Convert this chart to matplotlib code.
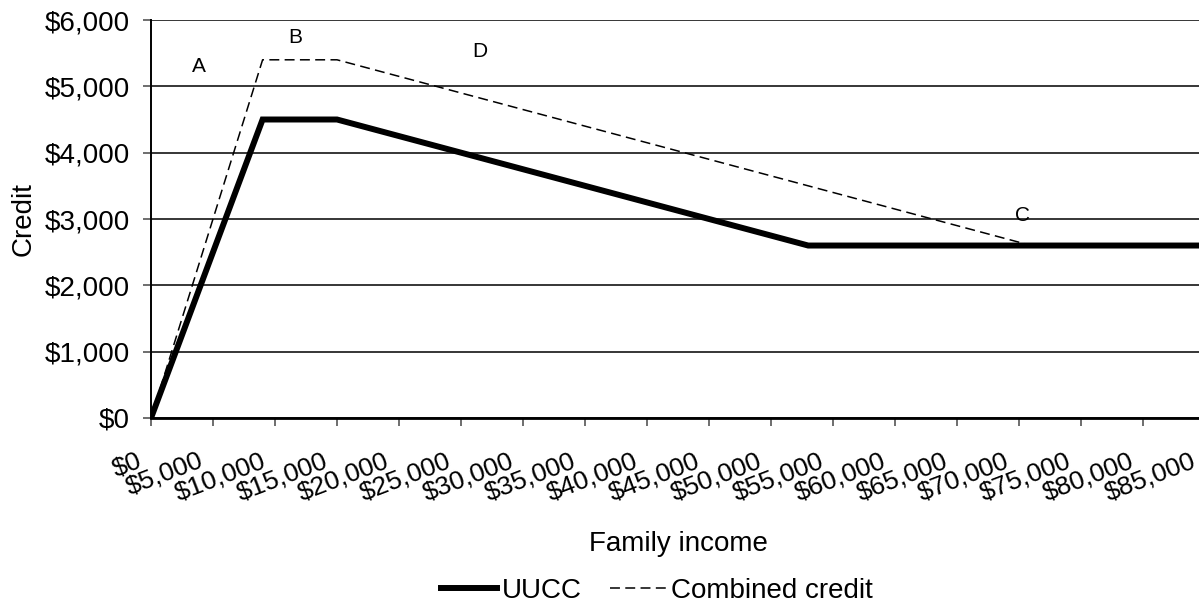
import matplotlib
matplotlib.use("Agg")
import matplotlib.pyplot as plt
import matplotlib.transforms as mtransforms
from matplotlib.ticker import FuncFormatter

plt.rcParams['font.family'] = ['Liberation Sans', 'DejaVu Sans']

# Credit schedules by family income
uucc_income = [0, 9000, 15000, 53000, 84500]
uucc_credit = [0, 4500, 4500, 2600, 2600]

combined_income = [0, 9000, 15000, 70000, 71000, 84500]
combined_credit = [0, 5400, 5400, 2650, 2600, 2600]

# Region annotations (letter, income, credit)
region_labels = ["A", "B", "D", "C"]
region_x = [3900, 11600, 26500, 70300]
region_y = [5300, 5730, 5520, 3050]

x_ticks = list(range(0, 85001, 5000))
y_ticks = list(range(0, 6001, 1000))

W, H = 1199, 610
fig = plt.figure(figsize=(W / 100, H / 100), dpi=100)
ax = fig.add_axes([151 / W, 1 - 418 / H, (1205 - 151) / W, (418 - 20) / H])

ax.plot(uucc_income, uucc_credit, color='black', lw=4.3, solid_joinstyle='miter',
        label='UUCC', zorder=3)
ax.plot(combined_income, combined_credit, color='black', lw=1.1,
        dashes=(6.5, 3.5), label='Combined credit', zorder=4)

for t, xv, yv in zip(region_labels, region_x, region_y):
    ax.text(xv, yv, t, fontsize=15, ha='center', va='center', zorder=5)

ax.set_xlim(0, 85000)
ax.set_ylim(0, 6000)
ax.set_xticks(x_ticks)
ax.set_yticks(y_ticks)
money = FuncFormatter(lambda v, p: f"${v:,.0f}")
ax.xaxis.set_major_formatter(money)
ax.yaxis.set_major_formatter(money)

ax.yaxis.grid(True, color='black', lw=1.1)
ax.set_axisbelow(True)

for s in ['top', 'right']:
    ax.spines[s].set_visible(False)
ax.spines['left'].set_linewidth(1.4)
ax.spines['bottom'].set_linewidth(2.0)

ax.tick_params(axis='y', direction='out', length=6, width=1.2, color='#555555',
               labelsize=20, pad=9)
ax.tick_params(axis='x', direction='out', length=6, width=1.2, color='#555555',
               labelsize=19, pad=16)

offset = mtransforms.ScaledTranslation(-15 / 100, 0, fig.dpi_scale_trans)
for lbl in ax.get_xticklabels():
    lbl.set_rotation(21)
    lbl.set_rotation_mode('anchor')
    lbl.set_ha('right')
    lbl.set_va('top')
    lbl.set_transform(lbl.get_transform() + offset)

ax.set_ylabel('Credit', fontsize=20, labelpad=6)
fig.text(678 / W, 1 - 544 / H, 'Family income', fontsize=20, ha='center', va='center')

fig.legend(loc='center', bbox_to_anchor=(657 / W, 1 - 591 / H), ncol=2, frameon=False,
           fontsize=20, handlelength=2.0, handletextpad=0.2, columnspacing=1.0,
           borderpad=0, borderaxespad=0)

fig.savefig('out.png', dpi=100)
